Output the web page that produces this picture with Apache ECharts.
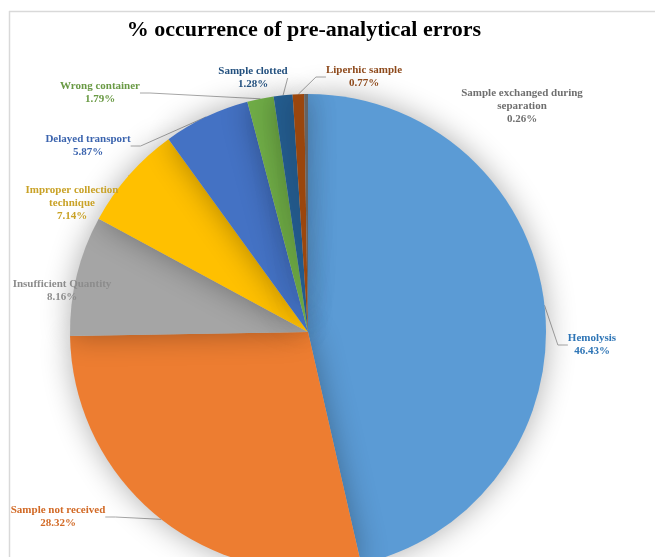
<!DOCTYPE html>
<html lang="en">
<head>
    <meta charset="UTF-8"/>
    <title>% occurrence of pre-analytical errors</title>
    <script type="text/javascript" src="https://cdn.jsdelivr.net/npm/echarts@6/dist/echarts.min.js"></script>
    <style>
        html, body {margin: 0; padding: 0; background: #fff;}
        #chart {width: 655px; height: 557px;}
    </style>
</head>
<body>
<div id="chart"></div>
<script type="text/javascript">
    var categories = ["Hemolysis", "Sample not received", "Insufficient Quantity",
        "Improper collection\ntechnique", "Delayed transport", "Wrong container",
        "Sample clotted", "Liperhic sample", "Sample exchanged during\nseparation"];
    var percents = [46.43, 28.32, 8.16, 7.14, 5.87, 1.79, 1.28, 0.77, 0.26];

    var sliceColors = ["#5B9BD5", "#ED7D31", "#A5A5A5", "#FFC000", "#4472C4",
        "#70AD47", "#255E91", "#9E480E", "#636363"];
    var textColors = ["#2E75B6", "#D26A26", "#8C8C8C", "#C9A227", "#3B64AE",
        "#6A9A45", "#23507E", "#8E4A1C", "#6F6F6F"];
    // label anchor: centre x, top y
    var labelPos = [[592, 332], [58, 504], [62, 278], [72, 184], [88, 133],
        [100, 80], [253, 65], [364, 64], [522, 87]];
    var noLine = [2, 8];

    var chart = echarts.init(document.getElementById("chart"));
    var data = [];
    for (var i = 0; i < categories.length; i++) {
        data.push({
            name: categories[i],
            value: percents[i],
            itemStyle: {color: sliceColors[i]},
            label: {color: textColors[i]},
            labelLine: {show: noLine.indexOf(i) < 0}
        });
    }

    chart.setOption({
        animation: false,
        title: {
            text: "% occurrence of pre-analytical errors",
            left: 299,
            textAlign: "center",
            top: 14,
            textStyle: {fontFamily: "Liberation Serif", fontWeight: "bold", fontSize: 22, color: "#000"}
        },
        graphic: [
            {type: "line", shape: {x1: 9, y1: 11.5, x2: 655, y2: 11.5}, style: {stroke: "#d9d9d9", lineWidth: 1.5}},
            {type: "line", shape: {x1: 9.5, y1: 11, x2: 9.5, y2: 557}, style: {stroke: "#d9d9d9", lineWidth: 1.5}}
        ],
        series: [{
            type: "pie",
            center: [308, 332],
            radius: 238,
            startAngle: 90,
            clockwise: true,
            data: data,
            itemStyle: {
                shadowBlur: 30,
                shadowColor: "rgba(0,0,0,0.32)"
            },
            label: {
                show: true,
                position: "outer",
                overflow: "none",
                fontFamily: "Liberation Serif",
                fontWeight: "bold",
                fontSize: 11,
                lineHeight: 13,
                align: "center",
                formatter: function (p) {
                    return p.name + "\n" + p.value.toFixed(2) + "%";
                }
            },
            labelLine: {
                show: true,
                length: 10,
                length2: 10,
                lineStyle: {color: "#a6a6a6", width: 1}
            },
            labelLayout: function (params) {
                var pos = labelPos[params.dataIndex];
                return {
                    x: pos[0],
                    y: pos[1],
                    align: "center",
                    verticalAlign: "top"
                };
            }
        }]
    });
</script>
</body>
</html>
